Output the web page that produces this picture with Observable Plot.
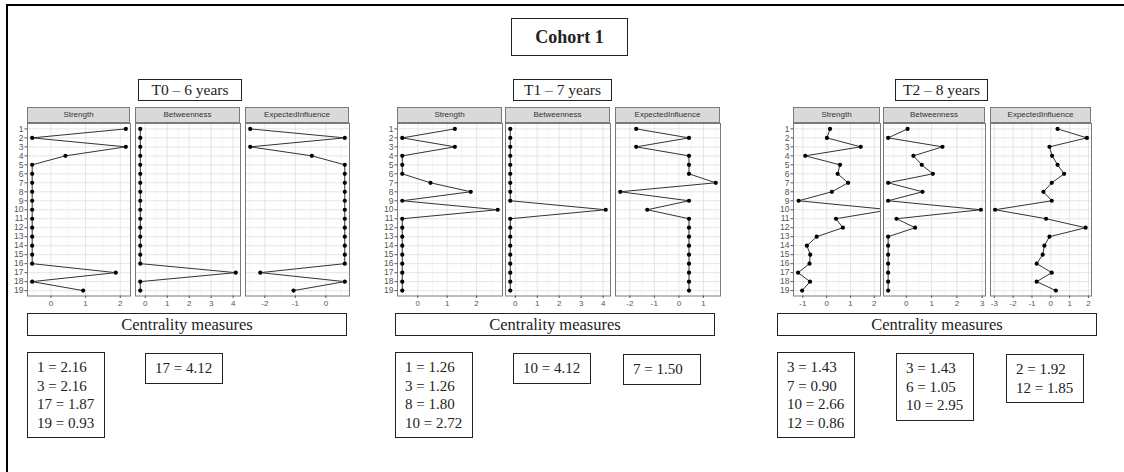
<!DOCTYPE html>
<html><head><meta charset="utf-8">
<script src="https://cdn.jsdelivr.net/npm/d3@7"></script>
<script src="https://cdn.jsdelivr.net/npm/@observablehq/plot@0.6"></script>
<style>
body{margin:0;background:#fff;}
#chart{position:relative;width:1124px;height:472px;overflow:hidden;background:#fff;font-family:"Liberation Serif","DejaVu Serif",serif;color:#222;}
.abs{position:absolute;box-sizing:border-box;}
.box{border:1.5px solid #222;background:#fff;}
.center{display:flex;align-items:center;justify-content:center;white-space:nowrap;}
.strip{background:#d9d9d9;border:1px solid #7a7a7a;font:8px "Liberation Sans",Arial,sans-serif;color:#333;text-align:center;line-height:13.5px;white-space:nowrap;overflow:hidden;}
.note{font-size:15px;line-height:18.5px;padding:5px 0 5px 9px;width:78px;white-space:nowrap;}
</style></head><body><div id="chart"></div><script>
// ---------- data ----------
const nodes = ["1","2","3","4","5","6","7","8","9","10","11","12","13","14","15","16","17","18","19"];
const measures = ["Strength","Betweenness","ExpectedInfluence"];
const timeLabels = ["T0 – 6 years","T1 – 7 years","T2 – 8 years"];
const title = "Cohort 1";
const axisTitle = "Centrality measures";

const t0Strength = [2.16,-0.54,2.16,0.42,-0.54,-0.54,-0.54,-0.54,-0.54,-0.54,-0.54,-0.54,-0.54,-0.54,-0.54,-0.54,1.87,-0.54,0.93];
const t0Betweenness = [-0.23,-0.23,-0.23,-0.23,-0.23,-0.23,-0.23,-0.23,-0.23,-0.23,-0.23,-0.23,-0.23,-0.23,-0.23,-0.23,4.12,-0.23,-0.23];
const t0ExpectedInfluence = [-2.48,0.62,-2.48,-0.46,0.62,0.62,0.62,0.62,0.62,0.62,0.62,0.62,0.62,0.62,0.62,0.62,-2.15,0.62,-1.06];

const t1Strength = [1.26,-0.53,1.26,-0.53,-0.53,-0.53,0.43,1.80,-0.53,2.72,-0.53,-0.53,-0.53,-0.53,-0.53,-0.53,-0.53,-0.53,-0.53];
const t1Betweenness = [-0.23,-0.23,-0.23,-0.23,-0.23,-0.23,-0.23,-0.23,-0.23,4.12,-0.23,-0.23,-0.23,-0.23,-0.23,-0.23,-0.23,-0.23,-0.23];
const t1ExpectedInfluence = [-1.74,0.41,-1.74,0.41,0.41,0.41,1.50,-2.39,0.41,-1.29,0.41,0.41,0.41,0.41,0.41,0.41,0.41,0.41,0.41];

const t2Strength = [0.14,0.01,1.43,-0.90,0.56,0.46,0.90,0.22,-1.18,2.66,0.39,0.68,-0.42,-0.83,-0.69,-0.72,-1.20,-0.70,-1.03];
const t2Betweenness = [0.05,-0.72,1.43,0.28,0.61,1.05,-0.72,0.64,-0.72,2.95,-0.39,0.35,-0.72,-0.72,-0.72,-0.72,-0.72,-0.72,-0.72];
const t2ExpectedInfluence = [0.36,1.92,-0.07,0.07,0.36,0.71,0.05,-0.39,0.05,-2.96,-0.25,1.85,-0.07,-0.34,-0.43,-0.75,0.05,-0.75,0.27];

const t0Notes = [["1 = 2.16","3 = 2.16","17 = 1.87","19 = 0.93"],["17 = 4.12"]];
const t1Notes = [["1 = 1.26","3 = 1.26","8 = 1.80","10 = 2.72"],["10 = 4.12"],["7 = 1.50"]];
const t2Notes = [["3 = 1.43","7 = 0.90","10 = 2.66","12 = 0.86"],["3 = 1.43","6 = 1.05","10 = 2.95"],["2 = 1.92","12 = 1.85"]];

// ---------- layout ----------
const stripTop = 107, panelTop = 122.5, panelBottom = 295;
const groups = [
  {series:[t0Strength,t0Betweenness,t0ExpectedInfluence], notes:t0Notes,
   panels:[[27,130],[135,240],[245,349]], tbox:[138,79,104,22], cbox:[27,313,320,23],
   nbox:[[27,352],[145,353]], hiClip:[null,null,null]},
  {series:[t1Strength,t1Betweenness,t1ExpectedInfluence], notes:t1Notes,
   panels:[[397,502],[505,610],[615,720]], tbox:[513,79,99,22], cbox:[395,313,320,23],
   nbox:[[395,352],[513,353],[623,354]], hiClip:[null,null,null]},
  {series:[t2Strength,t2Betweenness,t2ExpectedInfluence], notes:t2Notes,
   panels:[[793,880],[883,985],[990,1091]], tbox:[895,79,93,22], cbox:[777,313,320,23],
   nbox:[[777,352],[896,353],[1006,354]], hiClip:[2.26,null,null]}
];

const chart = document.getElementById("chart");
function div(cls, l, t, w, h, html, extra) {
  const d = document.createElement("div");
  d.className = "abs " + cls;
  d.style.left = l + "px"; d.style.top = t + "px";
  if (w != null) d.style.width = w + "px";
  if (h != null) d.style.height = h + "px";
  d.innerHTML = html;
  if (extra) Object.assign(d.style, extra);
  chart.appendChild(d);
  return d;
}

// outer frame (left + top)
div("", 6, 4, 1130, 480, "", {borderLeft:"2.5px solid #000", borderTop:"2.5px solid #000"});
// main title
div("box center", 511, 18, 117, 38, title, {fontWeight:"bold", fontSize:"18px"});

const fmt = d => (d < 0 ? "-" + Math.abs(d) : String(d));

function panel(values, [x0, x1], showY, hiClip) {
  const data = nodes.map((n, i) => ({node: n, value: values[i]}));
  const [mn, mx] = d3.extent(values);
  const r = mx - mn;
  let lo = mn - 0.05 * r, hi = mx + 0.05 * r;
  if (hiClip != null) hi = Math.min(hi, hiClip);
  const major = d3.range(Math.ceil(lo), Math.floor(hi) + 1);
  const minor = d3.range(Math.floor(lo), Math.ceil(hi) + 1).map(v => v + 0.5).filter(v => v > lo && v < hi);
  const ml = showY ? 24 : 0;
  const w = x1 - x0, h = panelBottom - panelTop, mb = 16;
  const svg = Plot.plot({
    width: ml + w, height: h + mb,
    marginLeft: ml, marginRight: 0, marginTop: 0, marginBottom: mb,
    x: {domain: [lo, hi], axis: null, label: null},
    y: {type: "point", domain: nodes, padding: 0.6, axis: null, round: false, label: null},
    style: {fontFamily: "'Liberation Sans', Arial, sans-serif", background: "transparent", overflow: "visible"},
    marks: [
      Plot.gridX(minor, {stroke: "#f2f2f2", strokeOpacity: 1, strokeWidth: 0.7}),
      Plot.gridX(major, {stroke: "#e2e2e2", strokeOpacity: 1, strokeWidth: 0.9}),
      Plot.gridY(nodes, {stroke: "#e2e2e2", strokeOpacity: 1, strokeWidth: 0.9}),
      Plot.line(data, {x: "value", y: "node", stroke: "#333", strokeWidth: 1, clip: true}),
      Plot.dot(data, {x: "value", y: "node", r: 2.1, fill: "#000", stroke: "none", clip: true}),
      Plot.frame({stroke: "#7a7a7a", strokeWidth: 1}),
      Plot.axisX({ticks: major, tickFormat: fmt, tickSize: 2.5, tickPadding: 2, fontSize: 8, color: "#555", label: null}),
      showY ? Plot.axisY({tickSize: 2.5, tickPadding: 1.5, fontSize: 8.5, color: "#555", label: null}) : null
    ]
  });
  svg.style.position = "absolute";
  svg.style.left = (x0 - ml) + "px";
  svg.style.top = panelTop + "px";
  chart.appendChild(svg);
}

groups.forEach((g, gi) => {
  div("box center", g.tbox[0], g.tbox[1], g.tbox[2], g.tbox[3], timeLabels[gi], {fontSize: "15.5px"});
  g.series.forEach((vals, mi) => {
    const [x0, x1] = g.panels[mi];
    panel(vals, g.panels[mi], mi === 0, g.hiClip[mi]);
    div("strip", x0, stripTop, x1 - x0, panelTop - stripTop, measures[mi]);
  });
  div("box center", g.cbox[0], g.cbox[1], g.cbox[2], g.cbox[3], axisTitle, {fontSize: "16.5px"});
  g.notes.forEach((lines, ni) => {
    div("box note", g.nbox[ni][0], g.nbox[ni][1], null, null, lines.join("<br>"));
  });
});
</script></body></html>
